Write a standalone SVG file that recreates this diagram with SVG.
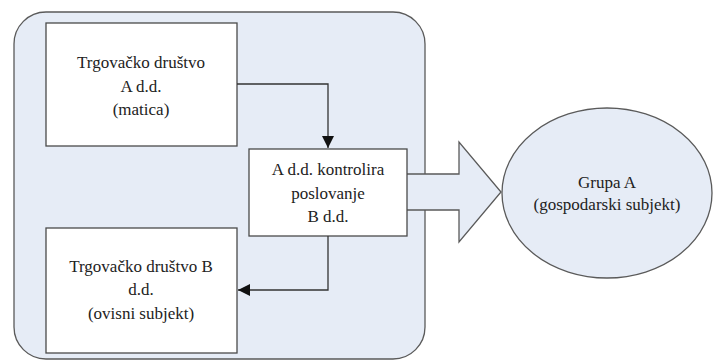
<svg xmlns="http://www.w3.org/2000/svg" width="713" height="362" viewBox="0 0 713 362">
<style>
.box{fill:#ffffff;stroke:#4a4a4a;stroke-width:1.3}
.blue{fill:#e6ecf6;stroke:#5a5a5a;stroke-width:1.3}
.ln{fill:none;stroke:#333;stroke-width:1.3}
.t{font-family:'Liberation Serif','DejaVu Serif',serif;font-size:17px;fill:#222;text-anchor:middle}
</style>
<defs>
<marker id="ah" viewBox="0 0 12 12" refX="12" refY="6" markerWidth="12" markerHeight="12" markerUnits="userSpaceOnUse" orient="auto">
<path d="M0,0 L12,6 L0,12 Z" fill="#111"/>
</marker>
</defs>
<rect width="713" height="362" fill="#ffffff"/>
<g id="group-frame">
<rect class="blue" x="14" y="12" width="411" height="347" rx="32" ry="32"/>
</g>
<g id="block-arrow">
<path d="M407,174 L459,174 L459,142 L501,192 L459,242 L459,210 L407,210" fill="#e6ecf6" stroke="#5a5a5a" stroke-width="1.3"/>
</g>
<g id="node-a">
<rect class="box" x="46" y="23" width="191" height="123"/>
<text class="t" x="141" y="68">Trgovačko društvo</text>
<text class="t" x="141" y="92">A d.d.</text>
<text class="t" x="141" y="115">(matica)</text>
</g>
<g id="node-c">
<rect class="box" x="249" y="149" width="158" height="87"/>
<text class="t" x="328" y="175">A d.d. kontrolira</text>
<text class="t" x="328" y="199">poslovanje</text>
<text class="t" x="328" y="222">B d.d.</text>
</g>
<g id="node-b">
<rect class="box" x="46" y="228" width="191" height="125"/>
<text class="t" x="141" y="272">Trgovačko društvo B</text>
<text class="t" x="141" y="295">d.d.</text>
<text class="t" x="141" y="319">(ovisni subjekt)</text>
</g>
<g id="node-grupa">
<ellipse class="blue" cx="607" cy="193" rx="105" ry="85"/>
<text class="t" x="607" y="188">Grupa A</text>
<text class="t" x="607" y="210">(gospodarski subjekt)</text>
</g>
<g id="connectors">
<path class="ln" d="M237,84 L328,84 L328,148" marker-end="url(#ah)"/>
<path class="ln" d="M328,236 L328,290 L238,290" marker-end="url(#ah)"/>
</g>
</svg>
